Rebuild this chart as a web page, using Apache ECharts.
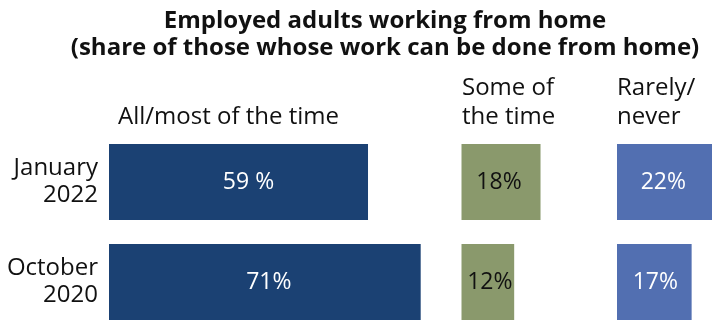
<!DOCTYPE html>
<html>
<head>
<meta charset="utf-8">
<script src="https://cdn.jsdelivr.net/npm/echarts@6/dist/echarts.min.js"></script>
<style>html,body{margin:0;padding:0;background:#fff}#c{width:712px;height:322px}</style>
</head>
<body>
<div id="c"></div>
<script>
const categories = ['October\n2020', 'January\n2022'];
const groupNames = ['All/most of the time', 'Some of\nthe time', 'Rarely/\nnever'];
const allMost = [71, 59];
const someTime = [12, 18];
const rarely = [17, 22];
const allMostLabels = ['71%', '59 %'];
const someLabels = ['12%', '18%'];
const rarelyLabels = ['17%', '22%'];

const FONT = '"Open Sans", "Noto Sans", sans-serif';
const colors = ['#1b4173', '#8a996c', '#526fb1'];
const lefts = [109, 461.5, 617];
const labelColors = ['#ffffff', '#111111', '#ffffff'];
const labelShift = [[4, 10], [2, -2], [1, -2]];
const seriesData = [allMost, someTime, rarely];
const seriesLabels = [allMostLabels, someLabels, rarelyLabels];

const grids = lefts.map(l => ({left: l, top: 132, width: 439, height: 200, outerBoundsMode: 'none', containLabel: false}));
const xAxes = lefts.map((l, i) => ({
  gridIndex: i, type: 'value', min: 0, max: 100,
  show: false
}));
const yAxes = lefts.map((l, i) => ({
  gridIndex: i, type: 'category', data: categories,
  axisLine: {show: false}, axisTick: {show: false},
  axisLabel: {show: i === 0, fontFamily: FONT, fontSize: 24, color: '#111', lineHeight: 27, margin: 11, align: 'right'}
}));
const series = seriesData.map((d, i) => ({
  type: 'bar', xAxisIndex: i, yAxisIndex: i,
  data: d.map((v, j) => ({value: v, label: {offset: [labelShift[i][j], 0]}})),
  barWidth: 76, itemStyle: {color: colors[i]},
  silent: true,
  label: {
    show: true, position: 'inside', fontFamily: FONT, fontSize: 23, color: labelColors[i],
    formatter: p => seriesLabels[i][p.dataIndex]
  }
}));

const chart = echarts.init(document.getElementById('c'));
chart.setOption({
  animation: false,
  title: {
    text: 'Employed adults working from home\n(share of those whose work can be done from home)',
    left: 380, top: 3, textAlign: 'center',
    textStyle: {fontFamily: FONT, fontWeight: 'bold', fontSize: 24, lineHeight: 27, color: '#111'}
  },
  graphic: [
    {type: 'text', left: 118, top: 102.5, style: {text: groupNames[0], font: '24px ' + FONT, fill: '#111', lineHeight: 29}},
    {type: 'text', left: 462, top: 73.5, style: {text: groupNames[1], font: '24px ' + FONT, fill: '#111', lineHeight: 29}},
    {type: 'text', left: 617, top: 73.5, style: {text: groupNames[2], font: '24px ' + FONT, fill: '#111', lineHeight: 29}}
  ],
  grid: grids, xAxis: xAxes, yAxis: yAxes, series: series
});
</script>
</body>
</html>
